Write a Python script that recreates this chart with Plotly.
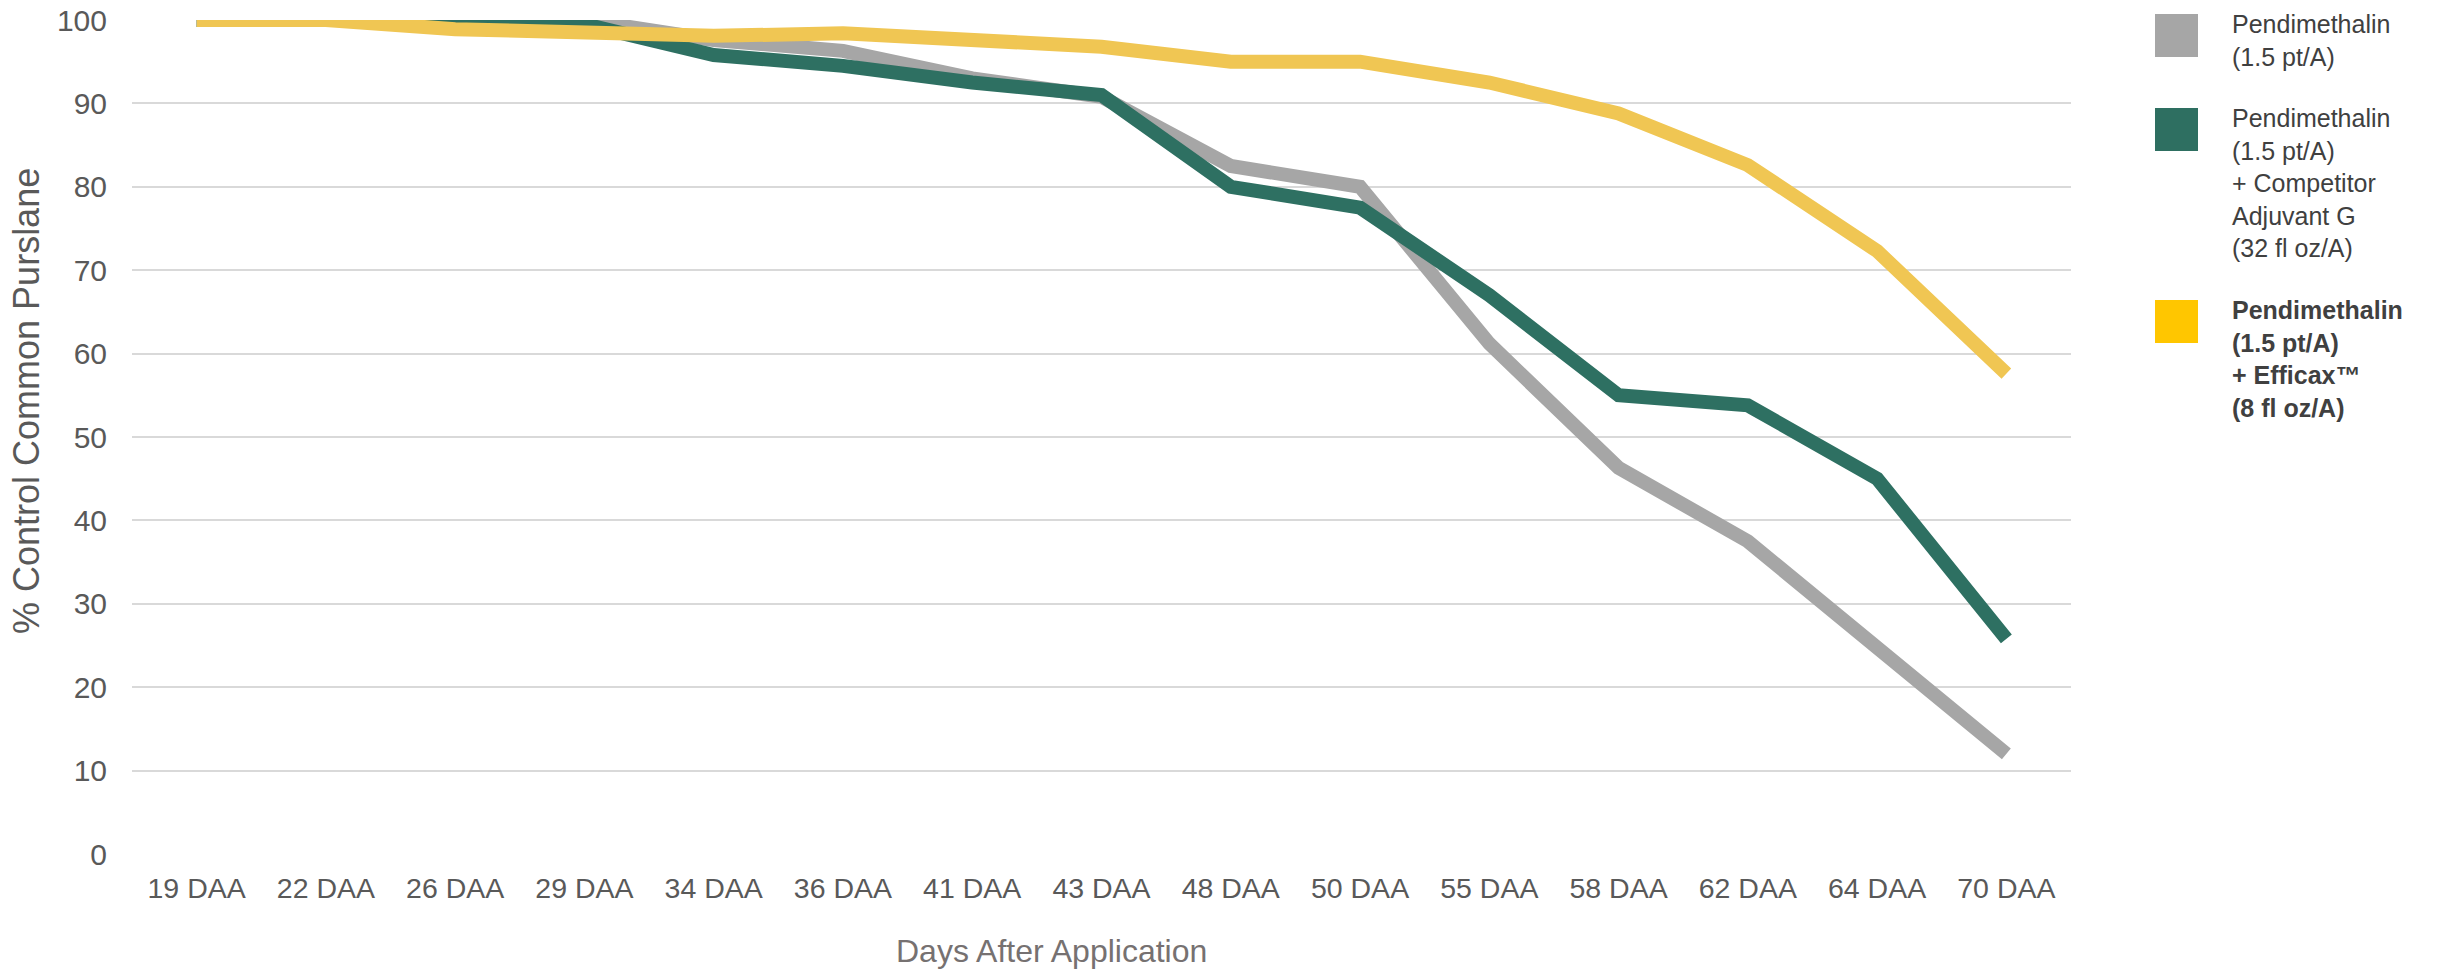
import plotly.graph_objects as go

categories = ["19 DAA", "22 DAA", "26 DAA", "29 DAA", "34 DAA", "36 DAA", "41 DAA", "43 DAA",
              "48 DAA", "50 DAA", "55 DAA", "58 DAA", "62 DAA", "64 DAA", "70 DAA"]
pendimethalin = [100, 100, 100, 100, 97.6, 96.3, 93.0, 90.8, 82.5, 80.0, 61.2, 46.3, 37.5, 24.8, 12.0]
competitor = [100, 100, 100, 99.5, 95.8, 94.5, 92.5, 91.0, 80.0, 77.5, 67.0, 55.0, 53.8, 45.0, 25.8]
efficax = [100, 100, 98.9, 98.6, 98.1, 98.4, 97.8, 96.8, 95.0, 95.0, 92.5, 88.8, 82.6, 72.3, 57.6]

legend_names = [
    "Pendimethalin<br>(1.5 pt/A)",
    "Pendimethalin<br>(1.5 pt/A)<br>+ Competitor<br>Adjuvant G<br>(32 fl oz/A)",
    "<b>Pendimethalin<br>(1.5 pt/A)<br>+ Efficax™<br>(8 fl oz/A)</b>",
]

W, H = 2441, 973
# plot area in page pixels
L, R, T, B = 132, 2071, 20, 854

def px(x):
    return (x - L) / (R - L)

def py(y):
    return (B - y) / (B - T)

FONT = "Liberation Sans, Arial, sans-serif"

fig = go.Figure()
fig.add_trace(go.Scatter(x=categories, y=pendimethalin, mode="lines",
                         line=dict(color="#A6A6A6", width=14), name="Pendimethalin"))
fig.add_trace(go.Scatter(x=categories, y=competitor, mode="lines",
                         line=dict(color="#2E7062", width=14), name="Competitor"))
fig.add_trace(go.Scatter(x=categories, y=efficax, mode="lines",
                         line=dict(color="#F0C653", width=14), name="Efficax"))

shapes = []
annotations = []
legend_colors = ["#A6A6A6", "#2E6F61", "#FFC600"]
square_tops = [14, 108, 300]
text_tops = [8, 102, 294]
for name, col, st, tt in zip(legend_names, legend_colors, square_tops, text_tops):
    shapes.append(dict(type="rect", xref="paper", yref="paper",
                       x0=px(2155), x1=px(2198), y0=py(st + 43), y1=py(st),
                       fillcolor=col, line=dict(width=0)))
    annotations.append(dict(text=name, xref="paper", yref="paper", x=px(2230), y=py(tt),
                            xanchor="left", yanchor="top", align="left", showarrow=False,
                            font=dict(family=FONT, size=25, color="#404040")))

annotations.append(dict(text="% Control Common Purslane", xref="paper", yref="paper",
                        x=px(26), y=py(401), xanchor="center", yanchor="middle",
                        textangle=-90, showarrow=False,
                        font=dict(family=FONT, size=36, color="#595959")))
annotations.append(dict(text="Days After Application", xref="paper", yref="paper",
                        x=px(1051), y=py(951), xanchor="center", yanchor="middle",
                        showarrow=False,
                        font=dict(family=FONT, size=32, color="#767171")))

fig.update_layout(
    width=W, height=H,
    margin=dict(l=L, r=W - R, t=T, b=H - B, pad=0, autoexpand=False),
    paper_bgcolor="white", plot_bgcolor="white",
    showlegend=False,
    shapes=shapes, annotations=annotations,
    font=dict(family=FONT, color="#595959"),
    xaxis=dict(type="category", range=[-0.5, len(categories) - 0.5], automargin=False,
               showgrid=False, zeroline=False, showline=False,
               tickfont=dict(family=FONT, size=28.5, color="#595959"),
               ticks="", ticklabelstandoff=14, ticklabeloverflow="allow"),
    yaxis=dict(range=[0, 100], dtick=10, showgrid=True, gridcolor="#D9D9D9", gridwidth=2,
               zeroline=False, showline=False, automargin=False,
               tickfont=dict(family=FONT, size=30, color="#595959"),
               ticks="", ticklabelstandoff=24, ticklabeloverflow="allow"),
)

fig.write_html("out.html",
               config={"displayModeBar": False},
               post_script="document.body.style.margin='0';document.body.style.overflow='hidden';")
